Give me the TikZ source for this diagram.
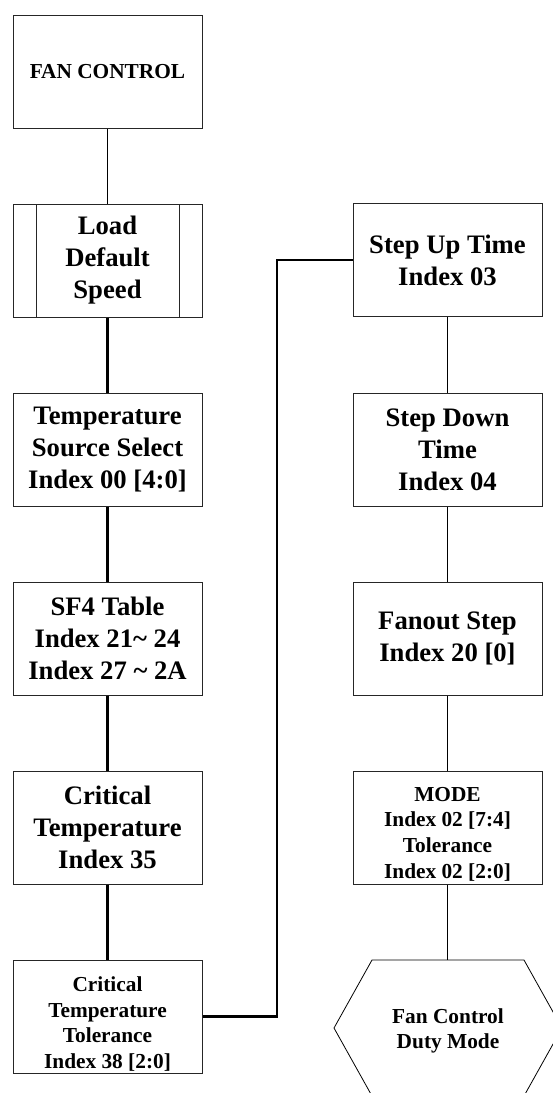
\documentclass[tikz,border=0pt]{standalone}
\usepackage{fontspec}
\setmainfont{Liberation Serif}
\begin{document}
\begin{tikzpicture}[x=0.75pt,y=-0.75pt,
  box/.style={draw=black!85,line width=0.75pt,minimum width=189*0.75pt,minimum height=113*0.75pt,
    inner sep=0pt,align=center,font=\bfseries\fontsize{20pt}{24pt}\selectfont,fill=white},
  smallbox/.style={box,font=\bfseries\fontsize{16pt}{19.5pt}\selectfont},
  boxtext/.style={inner sep=0pt,align=center,font=\bfseries\fontsize{16pt}{19.3pt}\selectfont},
  thinlink/.style={draw=black,line width=0.75pt},
  thicklink/.style={draw=black,line width=1.6pt}]
\useasboundingbox (0,0) rectangle (553,1093);
\fill[white] (0,0) rectangle (553,1093);
% left column
\node[smallbox] (fan) at (107.5,71.5) {FAN CONTROL};
\node[box] (load) at (107.5,260.5) {Load\\Default\\Speed};
\draw[black!85,line width=0.75pt] (36,204) -- (36,317) (179,204) -- (179,317);
\node[box] (tsrc) at (107.5,450) {Temperature\\Source Select\\Index 00 [4:0]};
\node[box] (sf4) at (107.5,638.5) {SF4 Table\\Index 21\textasciitilde{} 24\\Index 27 \textasciitilde{} 2A};
\node[box] (crit) at (107.5,827.5) {Critical\\Temperature\\Index 35};
\node[smallbox] (tol) at (107.5,1016.5) {};
\node[boxtext] (toltext) at (107.5,1024) {Critical\\Temperature\\Tolerance\\Index 38 [2:0]};
% right column
\node[box] (stepup) at (447.5,260) {Step Up Time\\Index 03};
\node[box] (stepdown) at (447.5,450) {Step Down\\Time\\Index 04};
\node[box] (fanout) at (447.5,638.5) {Fanout Step\\Index 20 [0]};
\node[smallbox] (mode) at (447.5,827.5) {};
\node[boxtext] (modetext) at (447.5,834) {MODE\\Index 02 [7:4]\\Tolerance\\Index 02 [2:0]};
% hexagon
\draw[black,line width=0.6pt] (372,960) -- (524,960) -- (562,1028) -- (524,1096) -- (372,1096) -- (334,1028) -- cycle;
\coordinate (hextop) at (447.5,960);
\node[boxtext] (duty) at (448,1031) {Fan Control\\Duty Mode};
% connectors
\draw[thinlink] (fan) -- (load);
\draw[thicklink] (load) -- (tsrc);
\draw[thicklink] (tsrc) -- (sf4);
\draw[thicklink] (sf4) -- (crit);
\draw[thicklink] (crit) -- (tol);
\coordinate (bend) at (277,1016.5);
\draw[thicklink] (tol.east) -- (bend) |- (stepup.west);
\draw[thinlink] (stepup) -- (stepdown);
\draw[thinlink] (stepdown) -- (fanout);
\draw[thinlink] (fanout) -- (mode);
\draw[thinlink] (mode) -- (hextop);
\end{tikzpicture}
\end{document}
